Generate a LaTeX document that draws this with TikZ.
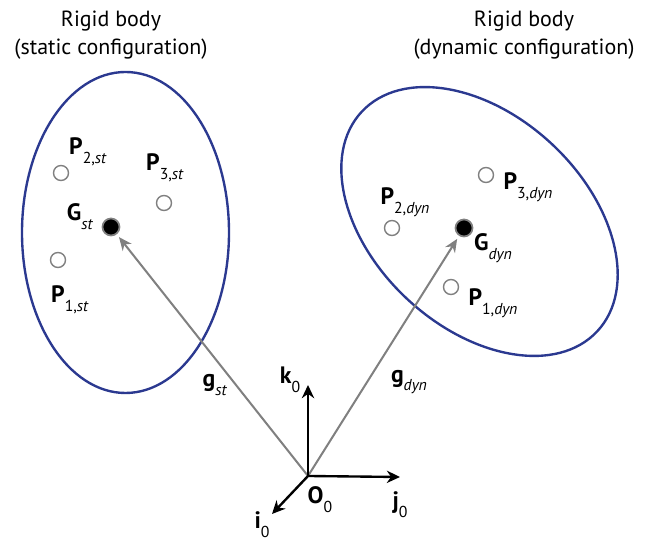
\documentclass[tikz,border=0pt]{standalone}
\usepackage{fontspec}
\setmainfont{PT Sans}
\usetikzlibrary{arrows.meta,positioning}
\definecolor{bod}{HTML}{2B3990}
\definecolor{vec}{HTML}{808080}
\newcommand{\lab}[2]{\textbf{#1}\raisebox{-5pt}{\fontsize{9}{10}\selectfont #2}}
\tikzset{
  body/.style={bod, line width=1.35pt},
  pnt/.style={circle, draw=vec, line width=0.8pt, minimum size=0.3cm, inner sep=0pt},
  cg/.style={circle, fill=black, draw=vec, line width=1pt, minimum size=0.34cm, inner sep=0pt},
  posvec/.style={vec, line width=1.15pt, -{Stealth[length=7.5pt,width=6.5pt]}, shorten >=2pt},
  axis/.style={black, line width=1.35pt, -{Stealth[length=7.5pt,width=7pt]}},
  lbl/.style={font=\fontsize{13.5}{15}\selectfont, inner sep=1pt},
  ttl/.style={align=center, font=\fontsize{12.5}{16}\selectfont},
}

\begin{document}
\begin{tikzpicture}
  \useasboundingbox (0,0) rectangle (12.9,10.8);
  % titles
  \node[ttl] (tst) at (2.22,10.1) {Rigid body\\(static configuration)};
  \node[ttl] (tdyn) at (10.48,10.1) {Rigid body\\(dynamic configuration)};
  % static body
  \draw[body] (2.51,6.15) ellipse (2.07 and 3.21);
  \node[pnt] (p1st) at (1.16,5.60) {};
  \node[pnt] (p2st) at (1.22,7.34) {};
  \node[pnt] (p3st) at (3.28,6.74) {};
  \node[cg] (gst) at (2.22,6.26) {};
  \node[lbl] (lp1st) at (1.40,4.80) {\lab{P}{1,\textit{st}}};
  \node[lbl] (lp2st) at (1.76,7.76) {\lab{P}{2,\textit{st}}};
  \node[lbl] (lp3st) at (3.30,7.44) {\lab{P}{3,\textit{st}}};
  \node[lbl] (lgst) at (1.60,6.46) {\lab{G}{\textit{st}}};
  % dynamic body
  \draw[body, rotate around={-43:(9.59,6.37)}] (9.59,6.37) ellipse (3.22 and 2.12);
  \node[pnt] (p1dyn) at (9.02,5.06) {};
  \node[pnt] (p2dyn) at (7.84,6.24) {};
  \node[pnt] (p3dyn) at (9.72,7.30) {};
  \node[cg] (gdyn) at (9.28,6.24) {};
  \node[lbl] (lp1dyn) at (9.86,4.74) {\lab{P}{1,\textit{dyn}}};
  \node[lbl] (lp2dyn) at (8.10,6.76) {\lab{P}{2,\textit{dyn}}};
  \node[lbl] (lp3dyn) at (10.56,7.06) {\lab{P}{3,\textit{dyn}}};
  \node[lbl] (lgdyn) at (9.86,5.84) {\lab{G}{\textit{dyn}}};
  % reference frame
  \coordinate (o) at (6.16,1.28);
  \coordinate (k) at (6.16,3.10);
  \coordinate (j) at (8.00,1.26);
  \coordinate (i) at (5.44,0.52);
  \draw[posvec] (o) -- (gst);
  \draw[posvec] (o) -- (gdyn);
  \draw[axis] (o) -- (k);
  \draw[axis] (o) -- (j);
  \draw[axis] (o) -- (i);
  \node[lbl] (lk) at (5.80,3.20) {\lab{k}{0}};
  \node[lbl] (lo) at (6.40,0.80) {\lab{O}{0}};
  \node[lbl] (lj) at (8.00,0.70) {\lab{j}{0}};
  \node[lbl] (li) at (5.24,0.30) {\lab{i}{0}};
  \node[lbl] (lgvst) at (4.30,3.10) {\lab{g}{\textit{st}}};
  \node[lbl] (lgvdyn) at (8.18,3.16) {\lab{g}{\textit{dyn}}};
\end{tikzpicture}
\end{document}
